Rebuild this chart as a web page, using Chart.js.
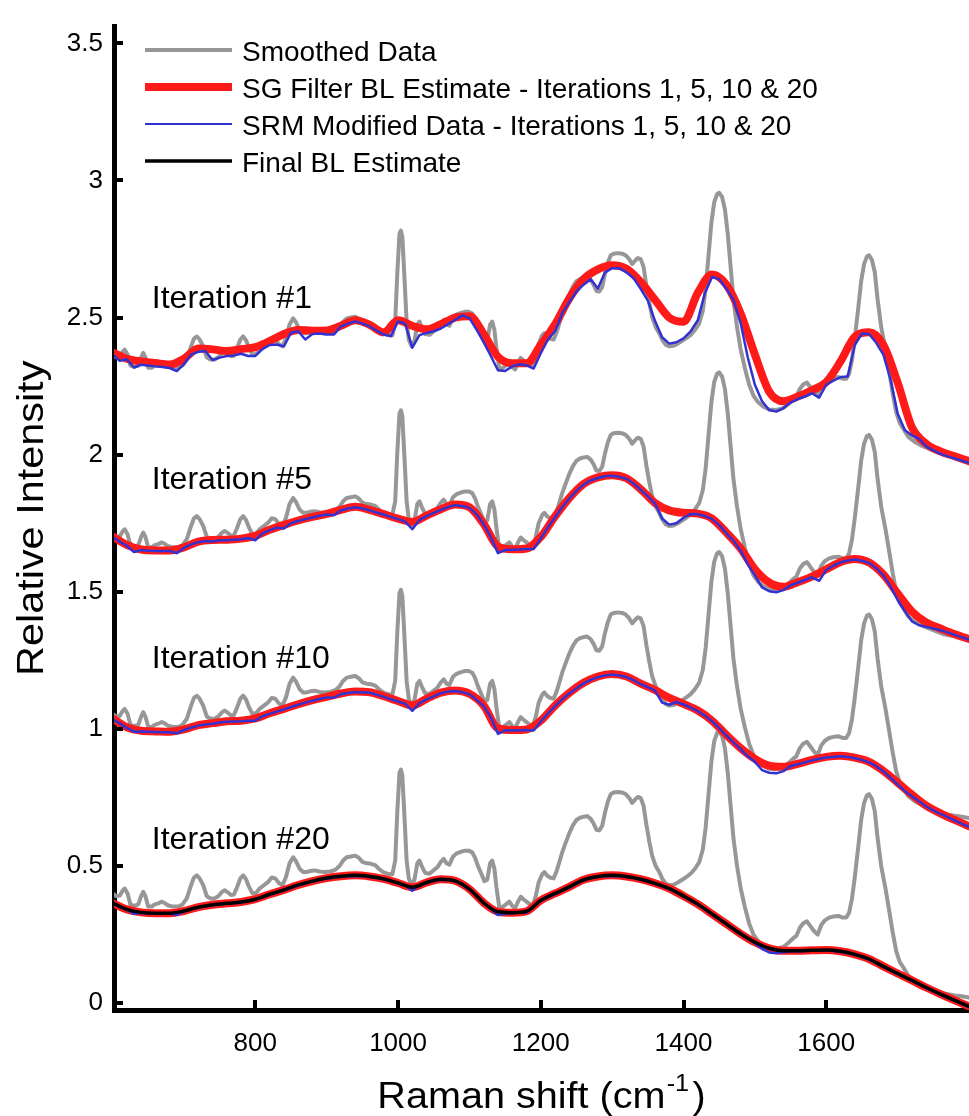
<!DOCTYPE html>
<html>
<head>
<meta charset="utf-8">
<title>SG filter baseline iterations</title>
<script src="https://cdn.jsdelivr.net/npm/chart.js@4.4.1/dist/chart.umd.min.js"></script>
<style>
  html, body { margin: 0; padding: 0; background: #fff; }
  canvas { display: block; }
</style>
</head>
<body>
<canvas id="spectra" width="969" height="1116"></canvas>
<script>
// values
const xTicks = [800, 1000, 1200, 1400, 1600];
const yTicks = [0, 0.5, 1, 1.5, 2, 2.5, 3, 3.5];
const seriesNames = [
  'Smoothed Data',
  'SG Filter BL Estimate - Iterations 1, 5, 10 & 20',
  'SRM Modified Data - Iterations 1, 5, 10 & 20',
  'Final BL Estimate'
];
const iterationNames = ['Iteration #1', 'Iteration #5', 'Iteration #10', 'Iteration #20'];
// vertical offset of each iteration's copy of the smoothed spectrum
const panelOffsets = [1.965, 1.31, 0.655, 0];

// smoothed spectrum (bottom copy)
const rawShift = [
  600, 605, 610, 614, 617, 621, 625, 630, 636, 640,
  643, 646, 650, 655, 659, 664, 669, 673, 678, 685,
  692, 698, 704, 710, 714, 718, 722, 727, 732, 737,
  743, 748, 753, 757, 761, 766, 770, 774, 779, 783,
  787, 791, 796, 801, 806, 812, 818, 823, 828, 833,
  838, 843, 848, 853, 857, 862, 867, 872, 877, 883,
  890, 897, 905, 912, 918, 923, 928, 934, 940, 945,
  950, 956, 962, 968, 973, 979, 985, 992, 996, 999,
  1002, 1004, 1006, 1009, 1012, 1015, 1019, 1023, 1027, 1030,
  1034, 1038, 1044, 1050, 1055, 1060, 1064, 1068, 1072, 1077,
  1082, 1088, 1094, 1099, 1104, 1108, 1112, 1117, 1121, 1125,
  1129, 1132, 1135, 1138, 1142, 1147, 1152, 1156, 1160, 1164,
  1168, 1172, 1176, 1180, 1185, 1189, 1193, 1197, 1202, 1205,
  1209, 1213, 1218, 1222, 1226, 1230, 1235, 1240, 1245, 1250,
  1255, 1260, 1265, 1270, 1274, 1278, 1282, 1286, 1290, 1294,
  1298, 1302, 1308, 1314, 1319, 1324, 1328, 1332, 1336, 1340,
  1344, 1348, 1352, 1356, 1361, 1366, 1370, 1375, 1380, 1386,
  1392, 1398, 1404, 1410, 1416, 1422, 1427, 1431, 1435, 1439,
  1443, 1447, 1450, 1454, 1458, 1462, 1466, 1470, 1475, 1480,
  1486, 1492, 1498, 1505, 1512, 1520, 1530, 1540, 1547, 1553,
  1558, 1563, 1568, 1573, 1578, 1583, 1588, 1593, 1598, 1604,
  1610, 1617, 1623, 1628, 1632, 1636, 1640, 1645, 1649, 1653,
  1657, 1660, 1664, 1668, 1672, 1677, 1683, 1688, 1693, 1698,
  1703, 1708, 1715, 1725, 1735, 1750, 1765, 1780, 1790, 1800
];
const smoothed = [
  0.40, 0.39, 0.392, 0.41, 0.418, 0.40, 0.36, 0.355, 0.36, 0.39,
  0.406, 0.39, 0.352, 0.352, 0.36, 0.364, 0.37, 0.365, 0.356, 0.352,
  0.352, 0.36, 0.382, 0.43, 0.458, 0.466, 0.455, 0.43, 0.39, 0.382,
  0.382, 0.39, 0.405, 0.412, 0.405, 0.394, 0.396, 0.42, 0.455, 0.466,
  0.452, 0.425, 0.40, 0.402, 0.418, 0.43, 0.442, 0.458, 0.455, 0.438,
  0.43, 0.46, 0.51, 0.532, 0.518, 0.49, 0.478, 0.478, 0.482, 0.484,
  0.48, 0.478, 0.48, 0.486, 0.50, 0.52, 0.532, 0.535, 0.538, 0.53,
  0.515, 0.51, 0.508, 0.503, 0.49, 0.478, 0.472, 0.47, 0.52, 0.70,
  0.84, 0.852, 0.83, 0.68, 0.52, 0.455, 0.43, 0.45, 0.51, 0.52,
  0.495, 0.475, 0.472, 0.485, 0.495, 0.515, 0.526, 0.51, 0.505, 0.535,
  0.546, 0.552, 0.556, 0.556, 0.55, 0.53, 0.50, 0.47, 0.445, 0.45,
  0.51, 0.52, 0.49, 0.42, 0.346, 0.352, 0.362, 0.37, 0.355, 0.346,
  0.37, 0.388, 0.378, 0.37, 0.36, 0.358, 0.39, 0.44, 0.47, 0.478,
  0.465, 0.458, 0.455, 0.48, 0.514, 0.55, 0.586, 0.62, 0.648, 0.668,
  0.676, 0.68, 0.682, 0.672, 0.655, 0.632, 0.63, 0.646, 0.695, 0.735,
  0.762, 0.768, 0.77, 0.768, 0.762, 0.748, 0.73, 0.742, 0.752, 0.748,
  0.72, 0.65, 0.59, 0.538, 0.50, 0.478, 0.455, 0.436, 0.43, 0.432,
  0.44, 0.45, 0.46, 0.472, 0.49, 0.514, 0.56, 0.64, 0.76, 0.88,
  0.955, 0.985, 0.99, 0.975, 0.93, 0.84, 0.72, 0.60, 0.50, 0.42,
  0.35, 0.29, 0.25, 0.225, 0.21, 0.20, 0.198, 0.205, 0.22, 0.235,
  0.245, 0.275, 0.292, 0.298, 0.28, 0.262, 0.25, 0.285, 0.302, 0.312,
  0.316, 0.318, 0.312, 0.312, 0.33, 0.38, 0.46, 0.574, 0.67, 0.73,
  0.758, 0.762, 0.745, 0.70, 0.60, 0.50, 0.418, 0.34, 0.26, 0.19,
  0.15, 0.13, 0.10, 0.08, 0.066, 0.05, 0.035, 0.028, 0.025, 0.02
];

// SG filter baseline estimates, sampled every 20 cm-1
const blShift = [
  600, 620, 640, 660, 680, 700, 720, 740, 760, 780,
  800, 820, 840, 860, 880, 900, 920, 940, 960, 980,
  1000, 1020, 1040, 1060, 1080, 1100, 1120, 1140, 1160, 1180,
  1200, 1220, 1240, 1260, 1280, 1300, 1320, 1340, 1360, 1380,
  1400, 1420, 1440, 1460, 1480, 1500, 1520, 1540, 1560, 1580,
  1600, 1620, 1640, 1660, 1680, 1700, 1720, 1740, 1760, 1780,
  1800
];
const sgIter1 = [
  2.373, 2.350, 2.340, 2.334, 2.329, 2.350, 2.387, 2.384, 2.378, 2.385,
  2.392, 2.414, 2.440, 2.455, 2.452, 2.453, 2.470, 2.490, 2.474, 2.446,
  2.490, 2.470, 2.457, 2.476, 2.500, 2.505, 2.440, 2.357, 2.333, 2.333,
  2.400, 2.475, 2.570, 2.640, 2.676, 2.691, 2.678, 2.630, 2.565, 2.500,
  2.485, 2.590, 2.657, 2.620, 2.515, 2.365, 2.230, 2.195, 2.212, 2.235,
  2.265, 2.340, 2.430, 2.446, 2.400, 2.263, 2.100, 2.040, 2.012, 1.994,
  1.976
];
const sgIter5 = [
  1.702, 1.671, 1.654, 1.651, 1.651, 1.662, 1.683, 1.689, 1.690, 1.694,
  1.704, 1.726, 1.744, 1.760, 1.773, 1.784, 1.799, 1.810, 1.799, 1.783,
  1.767, 1.755, 1.778, 1.801, 1.818, 1.808, 1.748, 1.665, 1.655, 1.658,
  1.700, 1.775, 1.842, 1.893, 1.917, 1.925, 1.914, 1.874, 1.824, 1.797,
  1.788, 1.785, 1.767, 1.716, 1.658, 1.582, 1.534, 1.518, 1.535, 1.555,
  1.582, 1.609, 1.620, 1.607, 1.563, 1.494, 1.428, 1.388, 1.366, 1.345,
  1.328
];
const sgIter10 = [
  1.038, 1.006, 0.993, 0.991, 0.990, 0.998, 1.014, 1.021, 1.028, 1.030,
  1.038, 1.057, 1.073, 1.090, 1.105, 1.117, 1.129, 1.136, 1.134, 1.119,
  1.102, 1.086, 1.110, 1.132, 1.140, 1.128, 1.085, 1.002, 0.996, 0.998,
  1.030, 1.085, 1.131, 1.168, 1.191, 1.200, 1.191, 1.165, 1.142, 1.113,
  1.091, 1.067, 1.030, 0.978, 0.930, 0.891, 0.866, 0.862, 0.873, 0.887,
  0.898, 0.902, 0.895, 0.880, 0.847, 0.804, 0.760, 0.720, 0.692, 0.668,
  0.645
];
const sgIter20 = [
  0.365, 0.342, 0.331, 0.328, 0.328, 0.336, 0.350, 0.359, 0.364, 0.369,
  0.379, 0.397, 0.413, 0.431, 0.445, 0.456, 0.463, 0.466, 0.462, 0.453,
  0.438, 0.423, 0.440, 0.452, 0.446, 0.416, 0.366, 0.333, 0.330, 0.335,
  0.375, 0.400, 0.424, 0.450, 0.462, 0.466, 0.462, 0.452, 0.437, 0.418,
  0.391, 0.361, 0.325, 0.289, 0.253, 0.222, 0.200, 0.191, 0.191, 0.193,
  0.194, 0.189, 0.178, 0.161, 0.134, 0.108, 0.083, 0.057, 0.033, 0.010,
  -0.012
];
const finalBaseline = [
  0.365, 0.342, 0.331, 0.328, 0.328, 0.336, 0.350, 0.359, 0.364, 0.369,
  0.379, 0.397, 0.413, 0.431, 0.445, 0.456, 0.463, 0.466, 0.462, 0.453,
  0.438, 0.423, 0.440, 0.452, 0.446, 0.416, 0.366, 0.333, 0.330, 0.335,
  0.375, 0.400, 0.424, 0.450, 0.462, 0.466, 0.462, 0.452, 0.437, 0.418,
  0.391, 0.361, 0.325, 0.289, 0.253, 0.222, 0.200, 0.191, 0.191, 0.193,
  0.194, 0.189, 0.178, 0.161, 0.134, 0.108, 0.083, 0.057, 0.033, 0.010,
  -0.012
];

// SRM modified data, sampled every 10 cm-1
const srmShift = [
  600, 610, 620, 630, 640, 650, 660, 670, 680, 690,
  700, 710, 720, 730, 740, 750, 760, 770, 780, 790,
  800, 810, 820, 830, 840, 850, 860, 870, 880, 890,
  900, 910, 920, 930, 940, 950, 960, 970, 980, 990,
  1000, 1010, 1020, 1030, 1040, 1050, 1060, 1070, 1080, 1090,
  1100, 1110, 1120, 1130, 1140, 1150, 1160, 1170, 1180, 1190,
  1200, 1210, 1220, 1230, 1240, 1250, 1260, 1270, 1280, 1290,
  1300, 1310, 1320, 1330, 1340, 1350, 1360, 1370, 1380, 1390,
  1400, 1410, 1420, 1430, 1440, 1450, 1460, 1470, 1480, 1490,
  1500, 1510, 1520, 1530, 1540, 1550, 1560, 1570, 1580, 1590,
  1600, 1610, 1620, 1630, 1640, 1650, 1660, 1670, 1680, 1690,
  1700, 1710, 1720, 1730, 1740, 1750, 1760, 1770, 1780, 1790,
  1800
];
const srmIter1 = [
  2.366, 2.342, 2.348, 2.318, 2.328, 2.325, 2.322, 2.320, 2.316, 2.305,
  2.330, 2.365, 2.375, 2.378, 2.345, 2.354, 2.360, 2.362, 2.368, 2.360,
  2.360, 2.385, 2.400, 2.402, 2.395, 2.445, 2.450, 2.420, 2.440, 2.442,
  2.438, 2.438, 2.468, 2.478, 2.486, 2.478, 2.468, 2.452, 2.438, 2.432,
  2.486, 2.478, 2.390, 2.436, 2.444, 2.450, 2.460, 2.476, 2.492, 2.508,
  2.498, 2.456, 2.410, 2.360, 2.308, 2.305, 2.322, 2.330, 2.326, 2.314,
  2.370, 2.420, 2.450, 2.515, 2.556, 2.595, 2.620, 2.640, 2.606, 2.665,
  2.680, 2.680, 2.665, 2.644, 2.605, 2.562, 2.488, 2.428, 2.405, 2.410,
  2.424, 2.450, 2.490, 2.590, 2.648, 2.640, 2.605, 2.565, 2.480, 2.355,
  2.255, 2.195, 2.163, 2.157, 2.170, 2.190, 2.203, 2.212, 2.224, 2.208,
  2.255, 2.270, 2.283, 2.285, 2.400, 2.442, 2.440, 2.408, 2.365, 2.275,
  2.150, 2.090, 2.070, 2.058, 2.030, 2.016, 2.003, 1.994, 1.986, 1.978,
  1.970
];
const srmIter5 = [
  1.700, 1.683, 1.668, 1.645, 1.652, 1.650, 1.649, 1.649, 1.649, 1.641,
  1.660, 1.673, 1.681, 1.685, 1.683, 1.688, 1.688, 1.690, 1.692, 1.696,
  1.688, 1.713, 1.724, 1.734, 1.731, 1.750, 1.758, 1.765, 1.771, 1.777,
  1.782, 1.779, 1.797, 1.804, 1.808, 1.804, 1.797, 1.789, 1.781, 1.773,
  1.765, 1.756, 1.728, 1.762, 1.776, 1.788, 1.799, 1.809, 1.816, 1.813,
  1.806, 1.783, 1.746, 1.700, 1.641, 1.652, 1.653, 1.654, 1.656, 1.656,
  1.695, 1.735, 1.772, 1.808, 1.840, 1.868, 1.891, 1.906, 1.915, 1.921,
  1.923, 1.919, 1.912, 1.895, 1.872, 1.848, 1.822, 1.767, 1.745, 1.750,
  1.770, 1.784, 1.783, 1.776, 1.765, 1.743, 1.714, 1.686, 1.650, 1.600,
  1.560, 1.516, 1.502, 1.498, 1.506, 1.524, 1.533, 1.543, 1.553, 1.540,
  1.580, 1.595, 1.607, 1.614, 1.618, 1.613, 1.605, 1.586, 1.560, 1.520,
  1.470, 1.430, 1.392, 1.378, 1.372, 1.366, 1.360, 1.352, 1.343, 1.334,
  1.326
];
const srmIter10 = [
  1.036, 1.020, 1.004, 0.990, 0.991, 0.990, 0.989, 0.988, 0.988, 0.984,
  0.996, 1.004, 1.012, 1.016, 1.019, 1.023, 1.026, 1.027, 1.028, 1.030,
  1.030, 1.046, 1.055, 1.063, 1.071, 1.080, 1.088, 1.096, 1.103, 1.109,
  1.115, 1.114, 1.127, 1.131, 1.134, 1.134, 1.132, 1.125, 1.117, 1.108,
  1.100, 1.092, 1.066, 1.094, 1.108, 1.119, 1.130, 1.136, 1.138, 1.134,
  1.126, 1.106, 1.083, 1.042, 0.982, 0.995, 0.994, 0.995, 0.996, 0.994,
  1.027, 1.056, 1.083, 1.108, 1.129, 1.148, 1.166, 1.179, 1.189, 1.195,
  1.198, 1.195, 1.189, 1.178, 1.163, 1.152, 1.140, 1.096, 1.088, 1.098,
  1.089, 1.078, 1.065, 1.048, 1.028, 1.003, 0.976, 0.951, 0.926, 0.900,
  0.880, 0.850, 0.840, 0.838, 0.846, 0.865, 0.871, 0.878, 0.885, 0.891,
  0.896, 0.898, 0.900, 0.898, 0.893, 0.887, 0.878, 0.864, 0.845, 0.822,
  0.798, 0.774, 0.754, 0.736, 0.717, 0.703, 0.690, 0.678, 0.666, 0.654,
  0.643
];
const srmIter20 = [
  0.363, 0.350, 0.340, 0.326, 0.329, 0.327, 0.326, 0.326, 0.326, 0.322,
  0.334, 0.342, 0.348, 0.353, 0.357, 0.360, 0.362, 0.364, 0.367, 0.371,
  0.377, 0.386, 0.395, 0.403, 0.411, 0.420, 0.429, 0.436, 0.443, 0.449,
  0.454, 0.458, 0.461, 0.463, 0.464, 0.463, 0.460, 0.456, 0.451, 0.444,
  0.436, 0.428, 0.410, 0.430, 0.438, 0.445, 0.450, 0.449, 0.444, 0.431,
  0.414, 0.391, 0.364, 0.343, 0.321, 0.326, 0.328, 0.330, 0.330, 0.353,
  0.373, 0.386, 0.398, 0.410, 0.422, 0.435, 0.448, 0.455, 0.460, 0.463,
  0.464, 0.463, 0.460, 0.456, 0.450, 0.443, 0.435, 0.426, 0.416, 0.403,
  0.389, 0.374, 0.359, 0.341, 0.323, 0.305, 0.287, 0.269, 0.251, 0.235,
  0.218, 0.198, 0.185, 0.182, 0.186, 0.189, 0.189, 0.190, 0.191, 0.192,
  0.192, 0.190, 0.187, 0.182, 0.176, 0.168, 0.159, 0.146, 0.132, 0.119,
  0.106, 0.094, 0.081, 0.068, 0.055, 0.043, 0.031, 0.019, 0.008, -0.003,
  -0.014
];

const FONT = "'Liberation Sans', Arial, Helvetica, sans-serif";
const GRAY = '#979797';
const RED = '#ff1a1a';
const BLUE = '#3232d2';
const BLACK = '#000000';

const sgSeries = [sgIter1, sgIter5, sgIter10, sgIter20];
const srmSeries = [srmIter1, srmIter5, srmIter10, srmIter20];
const toPoints = (xs, ys) => ys.map((y, i) => ({x: xs[i], y: y}));

const datasets = [];
panelOffsets.forEach((off, k) => {
  datasets.push({
    label: seriesNames[0],
    data: smoothed.map((y, i) => ({x: rawShift[i], y: y + off})),
    borderColor: GRAY, borderWidth: 4, order: 4
  });
  datasets.push({
    label: seriesNames[1],
    data: toPoints(blShift, sgSeries[k]),
    borderColor: RED, borderWidth: 8, order: 3,
    cubicInterpolationMode: 'monotone'
  });
  datasets.push({
    label: seriesNames[2],
    data: toPoints(srmShift, srmSeries[k]),
    borderColor: BLUE, borderWidth: 2.5, order: 2
  });
});
datasets.push({
  label: seriesNames[3],
  data: toPoints(blShift, finalBaseline),
  borderColor: BLACK, borderWidth: 3.5, order: 1,
  cubicInterpolationMode: 'monotone'
});

// ticks pointing into the plot, like the original axes
const inwardTicks = {
  id: 'inwardTicks',
  afterDraw(chart) {
    const {ctx, chartArea, scales} = chart;
    ctx.save();
    ctx.strokeStyle = BLACK;
    ctx.lineWidth = 4;
    scales.x.ticks.forEach(t => {
      const px = Math.round(scales.x.getPixelForValue(t.value));
      ctx.beginPath();
      ctx.moveTo(px, chartArea.bottom);
      ctx.lineTo(px, chartArea.bottom - 10);
      ctx.stroke();
    });
    scales.y.ticks.forEach(t => {
      const py = Math.round(scales.y.getPixelForValue(t.value));
      ctx.beginPath();
      ctx.moveTo(chartArea.left, py);
      ctx.lineTo(chartArea.left + 9, py);
      ctx.stroke();
    });
    ctx.restore();
  }
};

// axis titles, iteration labels and the legend box
const decorations = {
  id: 'decorations',
  afterDraw(chart, args, opts) {
    const {ctx, chartArea, scales} = chart;
    ctx.save();
    ctx.fillStyle = BLACK;

    // iteration labels
    ctx.font = '32px ' + FONT;
    ctx.textAlign = 'left';
    ctx.textBaseline = 'alphabetic';
    iterationNames.forEach((name, i) => {
      const a = opts.labelAt[i];
      ctx.fillText(name, scales.x.getPixelForValue(a[0]), scales.y.getPixelForValue(a[1]));
    });

    // legend
    ctx.font = '28px ' + FONT;
    const styles = [[GRAY, 4], [RED, 8], [BLUE, 2], [BLACK, 3.5]];
    seriesNames.forEach((name, i) => {
      const y = opts.legendTop + i * 37;
      ctx.strokeStyle = styles[i][0];
      ctx.lineWidth = styles[i][1];
      ctx.beginPath();
      ctx.moveTo(145, y);
      ctx.lineTo(232, y);
      ctx.stroke();
      ctx.fillText(name, 242, y + 11);
    });

    // x title with superscript (the original lettering is a little wide)
    const stretch = 1.1;
    const main = 'Raman shift (cm';
    const sup = '-1';
    ctx.font = '36px ' + FONT;
    const wMain = ctx.measureText(main).width;
    const wClose = ctx.measureText(')').width;
    ctx.font = '23px ' + FONT;
    const wSup = ctx.measureText(sup).width;
    const total = (wMain + wSup + wClose + 4) * stretch;
    const cx = (chartArea.left + chartArea.right) / 2;
    ctx.save();
    ctx.translate(cx - total / 2, 1108);
    ctx.scale(stretch, 1);
    let x = 0;
    ctx.font = '36px ' + FONT;
    ctx.fillText(main, x, 0);
    x += wMain + 1;
    ctx.font = '23px ' + FONT;
    ctx.fillText(sup, x, -17);
    x += wSup + 3;
    ctx.font = '36px ' + FONT;
    ctx.fillText(')', x, 0);
    ctx.restore();

    // y title
    ctx.translate(43, (chartArea.top + chartArea.bottom) / 2);
    ctx.rotate(-Math.PI / 2);
    ctx.scale(1.15, 1);
    ctx.textAlign = 'center';
    ctx.font = '36px ' + FONT;
    ctx.fillText('Relative Intensity', 0, 0);
    ctx.restore();
  }
};

new Chart(document.getElementById('spectra'), {
  type: 'line',
  data: {datasets: datasets},
  options: {
    responsive: false,
    animation: false,
    devicePixelRatio: 1,
    layout: {padding: {top: 13, right: 0, bottom: 0, left: 0}},
    elements: {
      point: {radius: 0},
      line: {tension: 0, borderJoinStyle: 'round', borderCapStyle: 'round'}
    },
    plugins: {
      legend: {display: false},
      tooltip: {enabled: false},
      decorations: {
        legendTop: 50,
        labelAt: [[655, 2.536], [655, 1.874], [655, 1.223], [655, 0.561]]
      }
    },
    scales: {
      x: {
        type: 'linear',
        min: 602,
        max: 1800,
        afterFit: s => { s.height = 106; },
        afterBuildTicks: s => { s.ticks = xTicks.map(v => ({value: v})); },
        grid: {display: true, drawOnChartArea: false, drawTicks: false, color: 'rgba(0,0,0,0)'},
        border: {display: true, color: BLACK, width: 5},
        ticks: {color: BLACK, font: {family: FONT, size: 26}, padding: 18, maxRotation: 0, autoSkip: false,
                callback: v => String(v)}
      },
      y: {
        type: 'linear',
        min: -0.025,
        max: 3.561,
        afterFit: s => { s.width = 114; },
        afterBuildTicks: s => { s.ticks = yTicks.map(v => ({value: v})); },
        grid: {display: true, drawOnChartArea: false, drawTicks: false, color: 'rgba(0,0,0,0)'},
        border: {display: true, color: BLACK, width: 5},
        ticks: {color: BLACK, font: {family: FONT, size: 26}, padding: 11, autoSkip: false,
                callback: v => String(v)}
      }
    }
  },
  plugins: [inwardTicks, decorations]
});
</script>
</body>
</html>
